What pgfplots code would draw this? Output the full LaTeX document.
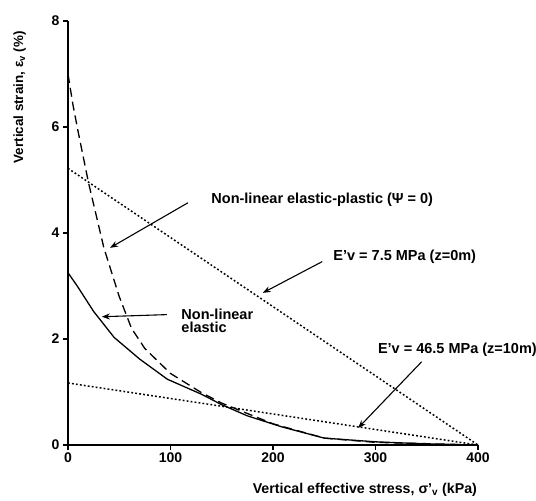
\documentclass[border=0pt]{standalone}
\usepackage{fontspec}
\setmainfont{Liberation Sans}
\usepackage{pgfplots}
\pgfplotsset{compat=1.18}
\usetikzlibrary{arrows.meta}

\begin{document}
\begin{tikzpicture}[x=1pt,y=1pt]
\useasboundingbox (-68,-56) rectangle (468,445);
\begin{axis}[
  at={(0,0)}, anchor=south west,
  scale only axis, width=410pt, height=424pt,
  xmin=0, xmax=400, ymin=0, ymax=8,
  axis lines*=left,
  axis line style={line width=1.4pt},
  tick align=outside, tick style={line width=1.1pt, black},
  major tick length=5pt,
  xtick={0,100,200,300,400}, ytick={0,2,4,6,8},
  tick label style={font=\fontsize{14}{16}\selectfont\bfseries},
  xticklabel style={yshift=1pt},
  /pgf/number format/assume math mode=true,
  clip=false,
]
% dotted linear-elastic lines
\addplot[black, line width=1.5pt, dash pattern=on 1.8pt off 2.2pt] coordinates {(0,5.22) (400,0)};
\addplot[black, line width=1.5pt, dash pattern=on 1.8pt off 2.2pt] coordinates {(0,1.17) (400,0)};
% non-linear elastic-plastic (dashed)
\addplot[black, line width=1.3pt, dash pattern=on 9pt off 5pt] coordinates {
  (0,7.0) (5,6.4) (10,5.9) (20,4.95) (35,3.72) (50,2.8) (62,2.2) (75,1.82)
  (100,1.35) (130,0.99) (150,0.79) (200,0.4) (250,0.13) (300,0.05) (400,0)};
% non-linear elastic (solid)
\addplot[black, line width=1.3pt] coordinates {
  (0,3.25) (9,3.0) (25,2.52) (45,2.03) (70,1.62) (97,1.24) (130,0.96)
  (150,0.76) (175,0.55) (209,0.34) (250,0.13) (300,0.06) (350,0.02) (400,0)};
% annotations
\node[anchor=west, font=\fontsize{14.5}{16}\selectfont\bfseries] at (axis cs:136.5,4.63) {Non-linear elastic-plastic (Ψ = 0)};
\draw[-{Stealth[length=8pt,width=6pt]}, line width=1.1pt] (axis cs:117,4.57) -- (axis cs:41,3.72);
\node[anchor=west, font=\fontsize{14.5}{16}\selectfont\bfseries] at (axis cs:255.5,3.55) {E'v = 7.5 MPa (z=0m)};
\draw[-{Stealth[length=8pt,width=6pt]}, line width=1.1pt] (axis cs:248,3.46) -- (axis cs:190,2.87);
\node[anchor=west, align=left, inner sep=0pt, font=\fontsize{14.5}{13.5}\selectfont\bfseries] at (axis cs:110.5,2.34) {Non-linear\\elastic};
\draw[-{Stealth[length=8pt,width=6pt]}, line width=1.1pt] (axis cs:96.5,2.46) -- (axis cs:33,2.42);
\node[anchor=west, font=\fontsize{14.5}{16}\selectfont\bfseries] at (axis cs:299,1.80) {E'v = 46.5 MPa (z=10m)};
\draw[-{Stealth[length=8pt,width=6pt]}, line width=1.1pt] (axis cs:345,1.57) -- (axis cs:283,0.32);
% axis labels
\node[font=\fontsize{14.2}{16}\selectfont\bfseries] at (axis description cs:0.724,-0.106) {Vertical effective stress, σ'\textsubscript{v} (kPa)};
\node[rotate=90, font=\fontsize{13.4}{15}\selectfont\bfseries] at (axis description cs:-0.118,0.82) {Vertical strain, ε\textsubscript{v} (\%)};
\end{axis}
\end{tikzpicture}
\end{document}
